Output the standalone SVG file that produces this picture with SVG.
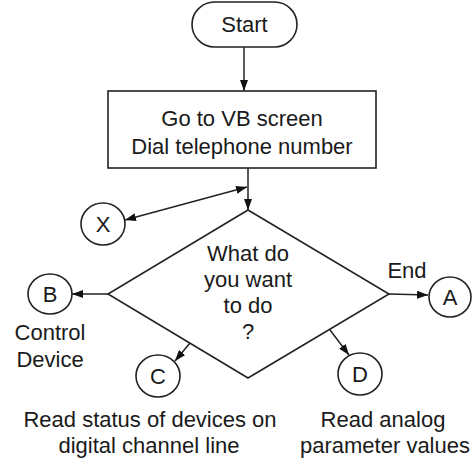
<svg xmlns="http://www.w3.org/2000/svg" width="473" height="459" viewBox="0 0 473 459">
  <style>
    .shape { fill: #fff; stroke: #222; stroke-width: 1.6; }
    .conn { fill: none; stroke: #222; stroke-width: 1.5; }
    text { font-family: "Liberation Sans", Arial, sans-serif; font-size: 22px; fill: #1a1a1a; text-anchor: middle; }
  </style>
  <defs>
    <marker id="arrow" viewBox="0 0 11 8" refX="11" refY="4" markerWidth="11" markerHeight="8" markerUnits="userSpaceOnUse" orient="auto-start-reverse">
      <path d="M0,0 L11,4 L0,8 z" fill="#111"/>
    </marker>
  </defs>
  <rect width="473" height="459" fill="#fff"/>

  <!-- connectors -->
  <g id="connectors">
    <line class="conn" x1="244" y1="47" x2="244" y2="91" marker-end="url(#arrow)"/>
    <line class="conn" x1="248" y1="168" x2="248" y2="210" marker-end="url(#arrow)"/>
    <line class="conn" x1="125" y1="220" x2="247" y2="187" marker-start="url(#arrow)" marker-end="url(#arrow)"/>
    <line class="conn" x1="108" y1="294" x2="72" y2="294" marker-end="url(#arrow)"/>
    <line class="conn" x1="389" y1="294" x2="428" y2="295" marker-end="url(#arrow)"/>
    <line class="conn" x1="190" y1="343" x2="175" y2="361" marker-end="url(#arrow)"/>
    <line class="conn" x1="330" y1="330" x2="349" y2="355" marker-end="url(#arrow)"/>
  </g>

  <!-- Start terminator -->
  <g id="start">
    <rect class="shape" x="192" y="2" width="105" height="45" rx="22.5" ry="22.5"/>
    <text x="244.5" y="32">Start</text>
  </g>

  <!-- Process box -->
  <g id="dial">
    <rect class="shape" x="108" y="91" width="268" height="77"/>
    <text x="242" y="126">Go to VB screen</text>
    <text x="242" y="154">Dial telephone number</text>
  </g>

  <!-- Decision -->
  <g id="decision">
    <polygon class="shape" points="248,210 389,294 248,378 108,294"/>
    <text x="248" y="261">What do</text>
    <text x="248" y="287">you want</text>
    <text x="248" y="313">to do</text>
    <text x="248" y="339">?</text>
  </g>

  <!-- Connector X -->
  <g id="node-x">
    <ellipse class="shape" cx="103" cy="224" rx="22" ry="21"/>
    <text x="103" y="232">X</text>
  </g>

  <!-- Connector B -->
  <g id="node-b">
    <ellipse class="shape" cx="50" cy="294" rx="22" ry="20"/>
    <text x="50" y="302">B</text>
    <text x="50" y="340">Control</text>
    <text x="50" y="367">Device</text>
  </g>

  <!-- Connector A -->
  <g id="node-a">
    <ellipse class="shape" cx="450" cy="297" rx="21" ry="20"/>
    <text x="450" y="305">A</text>
    <text x="407" y="278">End</text>
  </g>

  <!-- Connector C -->
  <g id="node-c">
    <ellipse class="shape" cx="158" cy="376" rx="22" ry="21"/>
    <text x="158" y="384">C</text>
    <text x="150" y="427">Read status of devices on</text>
    <text x="149" y="453">digital channel line</text>
  </g>

  <!-- Connector D -->
  <g id="node-d">
    <ellipse class="shape" cx="360" cy="374" rx="22" ry="21"/>
    <text x="360" y="382">D</text>
    <text x="383" y="427">Read analog</text>
    <text x="385" y="453">parameter values</text>
  </g>
</svg>
